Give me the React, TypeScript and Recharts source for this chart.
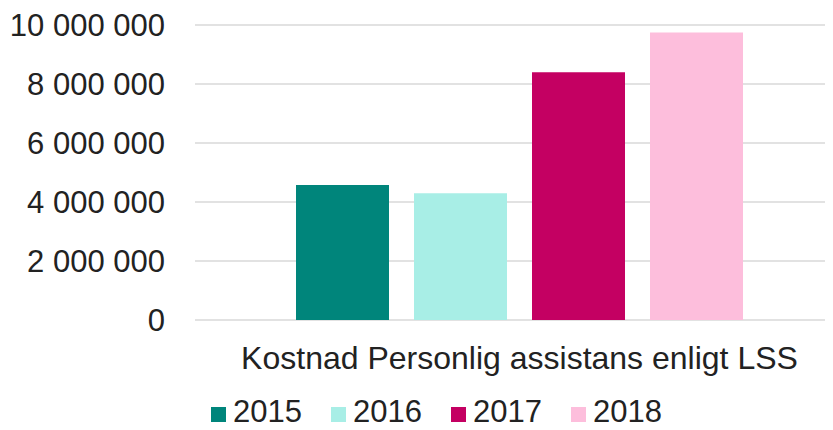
import React from 'react';
import { BarChart, Bar, XAxis, YAxis, CartesianGrid, Legend } from 'recharts';

const categories = ['Kostnad Personlig assistans enligt LSS'];
const years = ['2015', '2016', '2017', '2018'];
const values2015 = [4575000];
const values2016 = [4300000];
const values2017 = [8400000];
const values2018 = [9745000];
const yTicks = [0, 2000000, 4000000, 6000000, 8000000, 10000000];

const colors = ['#00857b', '#a8eee6', '#c40062', '#fdbedc'];
const font = '"Liberation Sans", Arial, sans-serif';
const textColor = '#222222';

const chartData = categories.map((name, i) => ({
  name,
  '2015': values2015[i],
  '2016': values2016[i],
  '2017': values2017[i],
  '2018': values2018[i],
}));

const formatTick = (v: number) => String(v).replace(/\B(?=(\d{3})+(?!\d))/g, ' ');

const renderLegend = (props: any) => {
  const { payload } = props;
  return (
    <div
      style={{
        display: 'flex',
        fontFamily: font,
        fontSize: 31,
        lineHeight: '31px',
        height: 31,
        color: textColor,
        whiteSpace: 'nowrap',
      }}
    >
      {payload.map((entry: any) => (
        <div key={entry.value} style={{ display: 'flex', alignItems: 'center', marginRight: 29, flexShrink: 0 }}>
          <span
            style={{
              display: 'inline-block',
              width: 15,
              height: 15,
              background: entry.color,
              marginRight: 7,
              position: 'relative',
              top: 3,
            }}
          />
          <span>{entry.value}</span>
        </div>
      ))}
    </div>
  );
};

const App = () => {
  return (
    <div style={{ margin: '-8px 0 0 -8px', width: 833, height: 430, overflow: 'hidden', background: '#fff' }}>
      <BarChart
        width={844}
        height={430}
        data={chartData}
        margin={{ top: 25, right: 0, bottom: 44, left: 0 }}
        barSize={93}
        barGap={25}
      >
        <CartesianGrid vertical={false} stroke="#d9d9d9" strokeWidth={1.5} />
        <XAxis
          dataKey="name"
          axisLine={false}
          tickLine={false}
          tickSize={0}
          tickMargin={26}
          height={35}
          tick={{ fill: textColor, fontSize: 32, fontFamily: font }}
        />
        <YAxis
          width={195}
          domain={[0, 10000000]}
          ticks={yTicks}
          axisLine={false}
          tickLine={false}
          tickSize={0}
          tickMargin={30}
          tickFormatter={formatTick}
          tick={{ fill: textColor, fontSize: 31, fontFamily: font }}
        />
        <Legend content={renderLegend} wrapperStyle={{ top: 396, left: 211, width: 500, height: 31, bottom: 'auto' }} />
        {years.map((y, i) => (
          <Bar key={y} dataKey={y} fill={colors[i]} isAnimationActive={false} />
        ))}
      </BarChart>
    </div>
  );
};

export default App;
